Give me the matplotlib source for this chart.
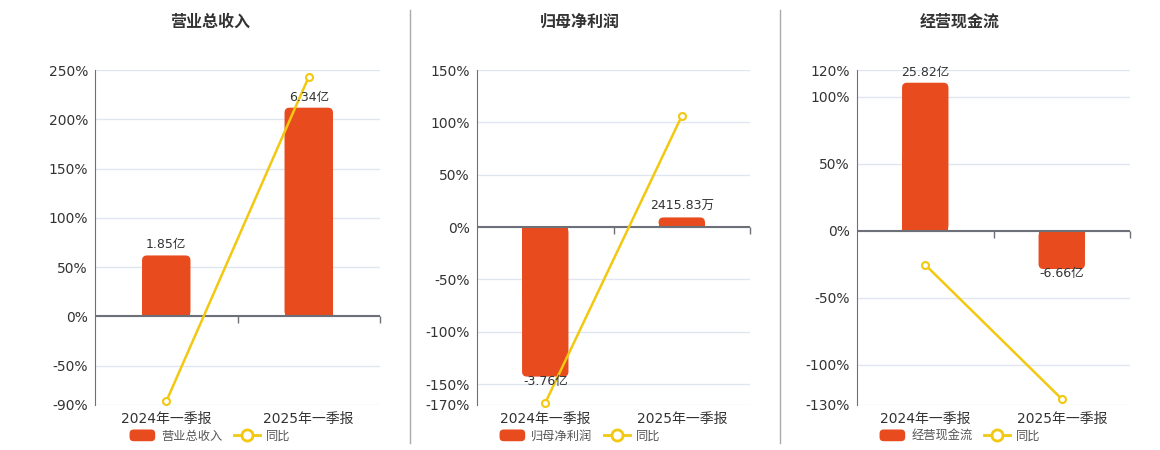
import numpy as np
import matplotlib
matplotlib.use('Agg')
import matplotlib.pyplot as plt
from matplotlib.patches import FancyBboxPatch, Patch
from matplotlib.lines import Line2D
from matplotlib.legend_handler import HandlerPatch

plt.rcParams['font.family'] = ['DejaVu Sans', 'Noto Sans CJK SC']

periods = ['2024年一季报', '2025年一季报']

titles = ['营业总收入', '归母净利润', '经营现金流']
# bar values in 亿
bar_values = [[1.85, 6.34], [-3.76, 0.241583], [25.82, -6.66]]
bar_labels = [['1.85亿', '6.34亿'], ['-3.76亿', '2415.83万'], ['25.82亿', '-6.66亿']]
# year-on-year change, %
yoy = [[-86.4, 243.0], [-168.0, 106.0], [-25.4, -125.5]]
yticks = [[-90, -50, 0, 50, 100, 150, 200, 250],
          [-170, -150, -100, -50, 0, 50, 100, 150],
          [-130, -100, -50, 0, 50, 100, 120]]
# percent-axis units per 亿 for the hidden bar axis
bar_scale = [33.4, 38.0, 4.28]

BAR_COLOR = '#E84B1E'
LINE_COLOR = '#F2C811'
AXIS_COLOR = '#6E7079'

# layout in pixels
W, H = 1160, 450
panel_left = [95, 477, 857]
panel_width = [285, 273, 273]
panel_center = [210, 580, 960]
plot_top, plot_bottom = 70, 405
separators = [410, 780]


def round_box(legend, orig_handle, xdescent, ydescent, width, height, fontsize):
    return FancyBboxPatch((-xdescent, -ydescent), width, height,
                          boxstyle='round,pad=0,rounding_size=3')


fig = plt.figure(figsize=(W / 100, H / 100), dpi=100)

for i in range(3):
    left, width = panel_left[i], panel_width[i]
    ax = fig.add_axes([left / W, 1 - plot_bottom / H, width / W, (plot_bottom - plot_top) / H])
    x = np.arange(len(periods))
    ylo, yhi = yticks[i][0], yticks[i][-1]
    ax.set_xlim(-0.5, len(periods) - 0.5)
    ax.set_ylim(ylo, yhi)
    ax.set_yticks(yticks[i])
    ax.set_yticklabels([f'{t}%' for t in yticks[i]])
    ax.set_xticks(x)
    ax.set_xticklabels(periods)
    ax.grid(axis='y', color='#E0E6F1', lw=1)
    ax.set_axisbelow(True)
    ax.tick_params(length=0, labelsize=10, labelcolor='#333333')
    ax.tick_params(axis='y', pad=5)
    ax.tick_params(axis='x', pad=5)
    for s in ['top', 'right', 'bottom']:
        ax.spines[s].set_visible(False)
    ax.spines['left'].set_color(AXIS_COLOR)

    axb = ax.twinx()
    axb.set_ylim(ylo / bar_scale[i], yhi / bar_scale[i])
    axb.axis('off')

    bars = axb.bar(x, bar_values[i], width=0.34, color=BAR_COLOR, lw=0)
    anns = axb.bar_label(bars, labels=bar_labels[i], padding=3, fontsize=9, color='#333333')
    for ann, v in zip(anns, bar_values[i]):
        if v < 0:
            ann.xyann = (0, 1.5)

    # rounded corners on the bars
    x_per_px = len(periods) / width
    y_per_px = (yhi - ylo) / bar_scale[i] / (plot_bottom - plot_top)
    for rect in bars:
        y0 = min(rect.get_y(), rect.get_y() + rect.get_height())
        h = abs(rect.get_height())
        axb.add_patch(FancyBboxPatch((rect.get_x(), y0), rect.get_width(), h,
                                     boxstyle=f'round,pad=0,rounding_size={5 * x_per_px}',
                                     mutation_aspect=y_per_px / x_per_px,
                                     facecolor=BAR_COLOR, lw=0))
        rect.set_height(rect.get_height() / 2)

    axb.axhline(0, color=AXIS_COLOR, lw=1.5)
    axb.plot(x + 0.5, np.zeros(len(x)), ls='none', marker=3, ms=5, mew=1,
             color=AXIS_COLOR, clip_on=False)

    axb.plot(x, yoy[i], transform=ax.transData, color=LINE_COLOR, lw=1.8,
             marker='o', ms=5, mfc='white', mec=LINE_COLOR, mew=1.5, clip_on=False)

    fig.text(panel_center[i] / W, 1 - 22 / H, titles[i], ha='center', va='center',
             fontsize=11.5, fontweight='bold', color='#333333')

    handles = [Patch(facecolor=BAR_COLOR),
               Line2D([], [], color=LINE_COLOR, lw=2, marker='o', ms=8,
                      mfc='white', mec=LINE_COLOR, mew=2)]
    fig.legend(handles, [titles[i], '同比'], loc='center',
               bbox_to_anchor=(panel_center[i] / W, 1 - 436 / H), ncol=2,
               frameon=False, fontsize=8.8, handlelength=2.1, handleheight=1.1,
               handletextpad=0.5, columnspacing=0.95, labelcolor='#555555',
               borderpad=0, handler_map={Patch: HandlerPatch(patch_func=round_box)})

for sx in separators:
    fig.add_artist(Line2D([sx / W, sx / W], [1 - 10 / H, 1 - 443 / H],
                          transform=fig.transFigure, color='#AAAAAA', lw=1))

fig.savefig('out.png', dpi=100)
